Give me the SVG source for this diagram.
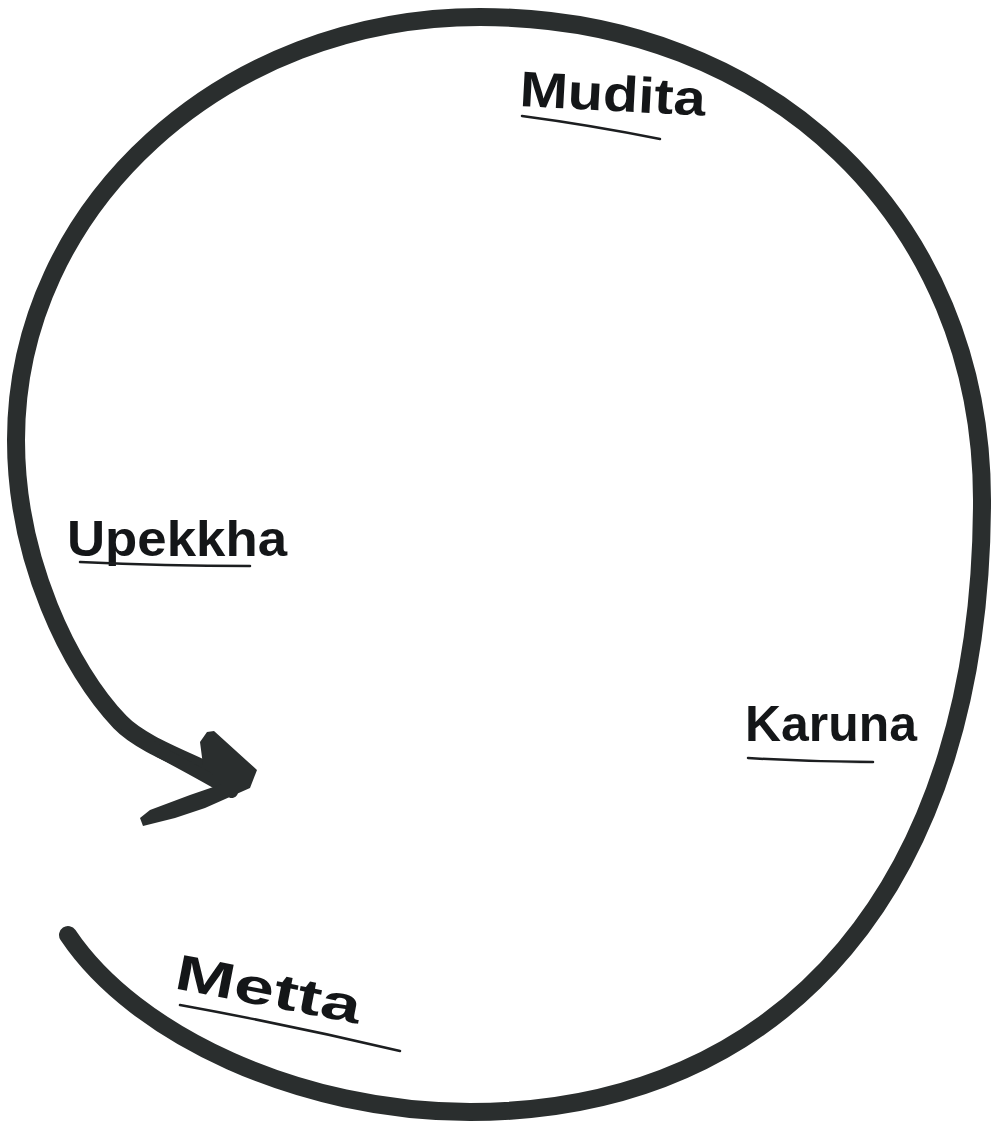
<svg xmlns="http://www.w3.org/2000/svg" width="991" height="1127" viewBox="0 0 991 1127">
<style>
.brush{fill:none;stroke:#2a2e2e;stroke-linecap:round;stroke-linejoin:round}
.lbl{font-family:"Liberation Sans","DejaVu Sans",sans-serif;font-weight:bold;font-size:50px;fill:#141618}
.ul{fill:none;stroke:#1c1e20;stroke-width:2.5;stroke-linecap:round}
</style>
<rect width="991" height="1127" fill="#ffffff"/>
<g id="connectors">
<path class="brush" stroke-width="18" d="M68,935 C135,1035 300,1112 470,1112 C787,1112 982,880 982,500 C982,220 771,17 480,17 C224,17 16,206 16,440 C16,560 70,670 120,722 C145,748 200,764 228,782"/>
<path class="brush" stroke-width="12" d="M90,686 C110,712 130,732 160,752 C190,768 212,780 232,792"/>
<polygon fill="#2a2e2e" points="207,732 214,731 257,770 250,788 205,808 175,818 143,826 140,818 150,810 190,795 222,784 203,765 200,742"/>
</g>
<g id="mudita">
<text class="lbl" x="519" y="106" textLength="186" lengthAdjust="spacingAndGlyphs" transform="rotate(3 519 106)">Mudita</text>
<path class="ul" d="M522,116 Q590,125 660,139"/>
</g>
<g id="upekkha">
<text class="lbl" x="67" y="556" textLength="220" lengthAdjust="spacingAndGlyphs">Upekkha</text>
<path class="ul" d="M80,562 Q165,566 250,566"/>
</g>
<g id="karuna">
<text class="lbl" x="745" y="741" textLength="172" lengthAdjust="spacingAndGlyphs">Karuna</text>
<path class="ul" d="M748,758 Q810,762 873,762"/>
</g>
<g id="metta">
<text class="lbl" x="173" y="988" textLength="188" lengthAdjust="spacingAndGlyphs" transform="rotate(11 173 988)">Metta</text>
<path class="ul" d="M180,1005 Q290,1025 400,1051"/>
</g>
</svg>
